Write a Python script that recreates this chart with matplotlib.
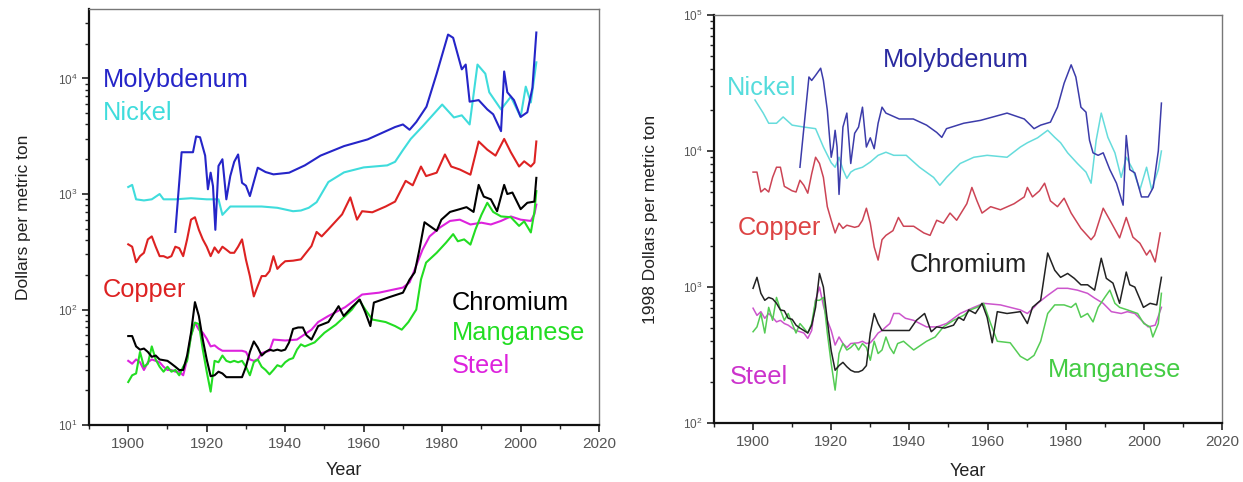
import numpy as np
import matplotlib
matplotlib.use("Agg")
import matplotlib.pyplot as plt
from matplotlib.ticker import LogLocator, MultipleLocator, NullFormatter

plt.rcParams['font.family'] = ['Liberation Sans', 'DejaVu Sans']

# ---- left panel: nominal dollars per metric ton ----
moly_yr = [1912, 1913.6, 1916.5, 1917.3, 1918.3, 1919.6, 1920.3, 1921, 1921.6, 1922.2, 1923, 1924, 1925, 1926,
           1927, 1928, 1929, 1930, 1931, 1933, 1935, 1937, 1941, 1945, 1949, 1955, 1961, 1968, 1970, 1971.7,
           1973.4, 1976, 1978.6, 1981.5, 1982.8, 1985, 1986, 1987, 1989.3, 1991.5, 1993, 1995, 1995.8, 1996.6,
           1998.3, 2000, 2001.7, 2003, 2004]
moly = [470, 2300, 2300, 3150, 3100, 2150, 1100, 1530, 1170, 490, 1750, 2000, 900, 1430,
        1900, 2200, 1250, 1180, 960, 1690, 1550, 1480, 1530, 1770, 2150, 2600, 2970, 3800, 4000, 3600,
        4200, 5700, 11000, 24000, 22500, 12000, 13200, 6300, 6500, 5400, 4900, 3500, 11500, 7600,
        6500, 4650, 5100, 8300, 25000]

nick_yr = [1900, 1901, 1902, 1904, 1906, 1908, 1909, 1912, 1916, 1920, 1923, 1924, 1926, 1930, 1934, 1938,
           1942, 1944, 1946, 1948, 1951, 1955, 1960, 1966, 1968, 1970, 1972, 1975, 1980, 1983, 1985, 1987,
           1989, 1991, 1992, 1995, 1997.5, 2000, 2001.3, 2002.6, 2004]
nick = [1150, 1200, 900, 880, 900, 1000, 900, 900, 920, 900, 900, 660, 780, 780, 780, 760,
        710, 720, 760, 850, 1270, 1540, 1700, 1770, 1900, 2400, 3000, 3850, 5950, 4600, 4800, 4000,
        13200, 11000, 7600, 5400, 6950, 4650, 8500, 6200, 13800]

copp_yr = [1900, 1901, 1902, 1903, 1904, 1905, 1906, 1907, 1908, 1909, 1910, 1911, 1912, 1913, 1914, 1915,
           1916, 1917, 1918, 1919, 1920, 1921, 1922, 1923, 1924, 1925, 1926, 1927, 1928, 1929, 1930, 1931,
           1932, 1933, 1934, 1935, 1936, 1937, 1938, 1939, 1940, 1942, 1944, 1946.7, 1948, 1949.3, 1951,
           1954.5, 1956.6, 1958.3, 1959.6, 1962.2, 1965.6, 1968, 1970.7, 1972.5, 1974.6, 1975.9, 1978.6,
           1980.7, 1982.3, 1984.5, 1987.2, 1989.3, 1991.5, 1993.6, 1995.8, 1997.5, 1999.6, 2000.9, 2002.6,
           2003.5, 2004]
copp = [367, 350, 257, 290, 310, 405, 430, 350, 290, 290, 280, 290, 350, 340, 290, 405,
        600, 630, 490, 405, 350, 290, 345, 310, 350, 330, 310, 310, 350, 405, 270, 195,
        130, 160, 195, 195, 215, 290, 225, 245, 262, 265, 272, 355, 470, 430, 495,
        667, 935, 600, 710, 695, 780, 860, 1300, 1190, 1730, 1430, 1530,
        2200, 1730, 1630, 1470, 2850, 2420, 2150, 3000, 2300, 1730, 1920, 1730,
        1870, 2850]

chro_yr = [1900, 1901, 1902, 1903, 1904, 1905, 1906, 1907, 1908, 1910, 1911, 1912, 1913, 1914, 1915, 1916,
           1917, 1918, 1919, 1920, 1921, 1922, 1923, 1924, 1925, 1929, 1930, 1931, 1932, 1933, 1934, 1935,
           1936, 1937, 1938, 1939, 1940, 1941, 1942, 1943.3, 1944.5, 1945.4, 1946.7, 1948.4, 1951, 1953.6,
           1954.9, 1957, 1959, 1960.4, 1961.7, 1962.6, 1966.5, 1970, 1971.7, 1973, 1974.2, 1975.5, 1976.8,
           1978.6, 1979.8, 1982, 1984.5, 1986.2, 1988, 1989.3, 1990.6, 1992.4, 1994, 1995.8, 1996.6, 1997.9,
           2000, 2001.7, 2003.5, 2004]
chro = [59, 59, 48, 45, 46, 43, 39, 40, 37, 36, 34, 32, 30, 30, 40, 63,
        116, 88, 55, 37, 26.5, 27, 29, 28, 26, 26, 32, 43, 53, 47, 40, 43,
        45, 44, 45, 44, 45, 52, 68, 70, 70, 60, 55, 72, 78, 107,
        88, 105, 122, 95, 72, 115, 128, 140, 182, 210, 330, 570, 530,
        480, 600, 700, 740, 770, 700, 1200, 950, 900, 710, 1200, 1000, 1030,
        740, 840, 860, 1380]

mang_yr = [1900, 1901, 1902, 1903, 1904, 1905, 1906, 1907, 1908, 1909, 1910, 1911, 1912, 1913, 1914, 1915,
           1916, 1917, 1918, 1919, 1920, 1921, 1922, 1923, 1924, 1925, 1926, 1927, 1928, 1929, 1930, 1931,
           1932, 1933, 1934, 1935, 1936, 1937, 1938, 1939, 1940, 1941, 1942, 1943, 1944, 1945, 1947.5, 1950,
           1952.9, 1955.3, 1957, 1958.8, 1960.4, 1962.2, 1965.6, 1968, 1969.7, 1971.4, 1973.4, 1974.6,
           1975.9, 1978.6, 1981, 1982.8, 1984, 1985.6, 1987.2, 1988.5, 1990, 1991.5, 1993, 1995, 1997.5,
           1999.6, 2000.9, 2002.6, 2003.5, 2004]
mang = [23.6, 27, 28, 43, 32, 34, 48, 37, 32, 29, 32, 29, 30, 27, 32, 36,
        59, 77, 75, 45, 29, 19.5, 36, 35, 40, 36, 35, 36, 35, 36, 32, 27,
        35, 37, 32, 30, 27.5, 30, 33, 32, 35, 37, 38, 45, 50, 48, 52, 63,
        74, 88, 100, 122, 100, 82, 78, 72, 67, 78, 100, 182,
        255, 310, 380, 450, 390, 405, 365, 495, 660, 840, 700, 640, 630,
        530, 580, 465, 700, 1060]

stee_yr = [1900, 1901, 1902, 1903, 1904, 1905, 1906, 1907, 1908, 1909, 1910, 1911, 1912, 1913, 1914, 1915,
           1916, 1917, 1918, 1919, 1920, 1921, 1922, 1923, 1924, 1929, 1930, 1931, 1932, 1933, 1934, 1935,
           1936, 1937, 1940, 1943, 1946.7, 1948.4, 1951, 1955.3, 1959.6, 1963.9, 1968, 1970, 1971.7, 1973.4,
           1975, 1976.8, 1979.5, 1982, 1984.5, 1987.2, 1990, 1992.4, 1995, 1997.5, 2000, 2002.6, 2003.5, 2004]
stee = [36, 34, 37, 35, 30, 35, 37, 36, 35, 32, 30, 30, 29, 29, 27, 37,
        60, 77, 67, 63, 56, 48, 49, 46, 44, 44, 43, 37, 36, 37, 42, 43,
        44, 55, 54, 55, 67, 78, 88, 105, 135, 140, 150, 155, 172, 240,
        330, 430, 515, 585, 600, 545, 565, 545, 585, 640, 600, 585, 670, 810]

# ---- right panel: 1998 dollars per metric ton ----
rmoly_yr = [1912, 1914.3, 1915, 1916, 1917.3, 1918, 1919, 1920, 1920.5, 1921, 1921.5, 1922, 1923, 1924, 1925,
            1926, 1927, 1928, 1929, 1930, 1931, 1932, 1933, 1934, 1937.4, 1941, 1944.4, 1947, 1948.3, 1949.5,
            1953.9, 1958.2, 1965, 1969.4, 1971, 1971.9, 1973.6, 1976.1, 1977.9, 1979.6, 1981.4, 1982.6,
            1983.9, 1985.2, 1986.1, 1987, 1988.3, 1989.6, 1991.3, 1993, 1994.7, 1995.5, 1996.4, 1997.7,
            1999.4, 2001.1, 2002.4, 2003.7, 2004.5]
rmoly = [7600, 35000, 33000, 36000, 40600, 33000, 20000, 9000, 10700, 14200, 10700, 4800, 15000, 19000, 8100,
         13500, 15000, 21000, 10700, 12500, 10400, 16000, 21000, 19000, 17200, 17200, 15500, 13700, 12600, 14600,
         16000, 16800, 19000, 17200, 15500, 14600, 15500, 16300, 21000, 31500, 43000, 35000,
         21000, 19300, 12000, 9700, 9300, 9700, 7300, 5800, 4000, 13000, 7300, 6900,
         4600, 4600, 5400, 10000, 22500]

rnick_yr = [1900.5, 1902.6, 1904, 1906, 1907.7, 1910, 1913, 1916, 1918, 1920, 1921, 1922, 1923, 1924, 1925,
            1926, 1928, 1930, 1932, 1934, 1936, 1939.2, 1942.6, 1946.2, 1947.8, 1949.5, 1953, 1956.5, 1959.9,
            1965, 1968.4, 1970.2, 1972.8, 1975.4, 1977.2, 1978.7, 1980.5, 1983, 1985.2, 1986.5, 1987.8,
            1989.1, 1990.8, 1992.6, 1994.2, 1995.5, 1997.2, 1999, 2000.7, 2002, 2003.7, 2004.5]
rnick = [23700, 19000, 16000, 16000, 17800, 15500, 15000, 14600, 10700, 8200, 7600, 9000, 7300, 6300, 7000,
         7300, 7600, 8300, 9300, 9800, 9300, 9300, 7600, 6400, 5600, 6400, 8100, 9000, 9300,
         9000, 10700, 11500, 12500, 14200, 12600, 11500, 9700, 8100, 7000, 5800, 12000,
         19000, 12600, 9700, 6400, 9000, 7300, 5200, 7600, 5200, 7300, 10000]

rcopp_yr = [1900, 1901, 1902, 1903, 1904, 1905, 1906, 1907, 1908, 1909, 1910, 1911, 1912, 1913, 1914, 1915,
            1916, 1917, 1918, 1919, 1920, 1921, 1922, 1923, 1924, 1925, 1926, 1927, 1928, 1929, 1930, 1931,
            1932, 1933, 1934, 1935.8, 1937.2, 1938.5, 1941.1, 1943.7, 1945.3, 1947, 1948.7, 1950.4, 1952.1,
            1954.7, 1956, 1957.3, 1958.6, 1960.8, 1963.3, 1966.8, 1969.4, 1970.2, 1971.5, 1973.3, 1974.6,
            1976.1, 1977.9, 1979.6, 1981.4, 1983.9, 1986.5, 1987.4, 1989.6, 1991.6, 1993.8, 1995.5, 1997.2,
            1999, 2000.7, 2001.6, 2002.9, 2004.2]
rcopp = [7000, 7000, 5000, 5300, 5000, 6400, 7600, 7600, 5500, 5300, 5100, 5000, 6100, 5600, 4900, 6800,
         9000, 8100, 6400, 3900, 3100, 2500, 2950, 2700, 2850, 2800, 2750, 2800, 3100, 3800, 2950, 1970,
         1580, 2230, 2400, 2600, 3250, 2800, 2800, 2500, 2400, 3100, 2950, 3500, 3100,
         4100, 5400, 4300, 3500, 3900, 3700, 4100, 4600, 5400, 4600, 5100, 5800,
         4300, 3900, 4500, 3500, 2700, 2230, 2400, 3800, 3000, 2300, 3250, 2330,
         2100, 1720, 1870, 1530, 2500]

rchro_yr = [1900, 1901, 1902, 1903, 1904, 1905, 1906, 1907, 1908, 1909, 1910, 1911, 1912, 1913, 1914, 1915,
            1916, 1917, 1918, 1919, 1920, 1921, 1922, 1923, 1924, 1925, 1926, 1927, 1928, 1929, 1930, 1931,
            1932, 1933, 1934, 1936, 1938, 1940, 1941.8, 1943.9, 1945.6, 1947, 1949, 1951.3, 1952.6, 1953.9,
            1955.2, 1956.9, 1958.6, 1959.9, 1961.2, 1962.5, 1965, 1968.4, 1970.2, 1971.5, 1973.6, 1975.4,
            1977.2, 1978.7, 1980.5, 1982.2, 1983.9, 1985.6, 1987.4, 1989.1, 1990.4, 1992.1, 1993.8, 1995.5,
            1996.4, 1997.7, 1999.9, 2001.6, 2003.3, 2004.5]
rchro = [980, 1180, 900, 800, 840, 820, 760, 680, 670, 590, 580, 525, 500, 480, 460, 525,
         710, 1260, 1000, 570, 340, 245, 265, 280, 260, 245, 238, 238, 245, 265, 460, 640,
         540, 480, 480, 480, 480, 480, 570, 640, 470, 510, 500, 525, 600, 570,
         680, 640, 760, 600, 390, 660, 640, 660, 540, 710, 800, 1780,
         1330, 1180, 1260, 1160, 1040, 1040, 950, 1630, 1160, 1070, 760, 1290,
         1040, 1000, 710, 760, 740, 1180]

rmang_yr = [1900, 1901, 1902, 1903, 1904, 1905, 1906, 1907, 1908, 1909, 1910, 1911, 1912, 1913, 1914, 1915,
            1916, 1917, 1918, 1919, 1920, 1921, 1922, 1923, 1924, 1925, 1926, 1927, 1928, 1929, 1930, 1931,
            1932, 1933, 1934, 1935, 1936, 1937, 1938.5, 1941.1, 1944.4, 1946.6, 1948.7, 1951.3, 1953.9,
            1955.6, 1957.3, 1959, 1960.8, 1962.5, 1965.8, 1968.4, 1970.2, 1971.9, 1973.6, 1975.4, 1977.2,
            1979.6, 1981.4, 1982.6, 1983.9, 1985.6, 1987, 1988.3, 1990, 1991.3, 1992.6, 1993.8, 1995.8,
            1998.4, 2000, 2001.6, 2002.3, 2003.7, 2004.5]
rmang = [470, 510, 640, 460, 710, 570, 840, 680, 570, 640, 540, 460, 540, 500, 460, 540,
         800, 800, 840, 460, 275, 175, 325, 385, 345, 360, 385, 345, 385, 360, 290, 400,
         325, 345, 430, 360, 325, 385, 400, 345, 400, 430, 510, 570, 620,
         680, 710, 760, 540, 400, 390, 310, 290, 315, 400, 640, 740,
         740, 710, 760, 600, 640, 555, 710, 840, 950, 760, 710, 680,
         640, 540, 510, 430, 540, 900]

rstee_yr = [1900, 1901, 1902, 1903, 1904, 1905, 1906, 1907, 1908, 1909, 1910, 1911, 1912, 1913, 1914, 1915,
            1916, 1917, 1918, 1919, 1920, 1921, 1922, 1923, 1924, 1925, 1927, 1928, 1929, 1930, 1931, 1932,
            1933, 1934, 1935, 1936, 1937.4, 1939, 1941.1, 1944.4, 1947, 1949.5, 1953, 1956.5, 1959, 1963.3,
            1968.4, 1970.2, 1971.9, 1972.8, 1975.4, 1977.9, 1980.5, 1983, 1985.6, 1987.4, 1989.6, 1991.7,
            1994.2, 1995.8, 1997.7, 1999.4, 2001.1, 2002.9, 2004.5]
rstee = [700, 620, 660, 590, 640, 600, 555, 570, 540, 525, 500, 480, 470, 460, 420, 480,
         800, 1000, 730, 570, 480, 375, 430, 385, 360, 385, 390, 400, 385, 390, 420, 460,
         480, 510, 540, 640, 640, 590, 570, 510, 510, 540, 640, 710, 760, 740,
         680, 640, 710, 760, 870, 980, 980, 950, 900, 830, 760, 660,
         640, 660, 640, 570, 510, 525, 710]

fig = plt.figure(figsize=(12.43, 4.82), dpi=100)
ax1 = fig.add_axes([0.0716, 0.118, 0.4104, 0.863])
ax2 = fig.add_axes([0.5744, 0.122, 0.4087, 0.847])


def style_axes(ax, ylo, yhi, ylabel, ypad, xpad):
    ax.set_yscale('log')
    ax.set_xlim(1890, 2020)
    ax.set_ylim(ylo, yhi)
    ax.xaxis.set_major_locator(MultipleLocator(20))
    ax.xaxis.set_minor_locator(MultipleLocator(10))
    ax.yaxis.set_major_locator(LogLocator(base=10, numticks=10))
    ax.yaxis.set_minor_locator(LogLocator(base=10, subs=np.arange(2, 10), numticks=20))
    ax.yaxis.set_minor_formatter(NullFormatter())
    ax.tick_params(which='major', direction='out', length=5, width=1.2, colors='#222',
                   labelcolor='#555', labelsize=11)
    ax.tick_params(axis='y', which='major', labelsize=8.5)
    ax.tick_params(which='minor', direction='out', length=3, width=1, colors='#222')
    for s in ['left', 'bottom']:
        ax.spines[s].set_linewidth(1.6)
        ax.spines[s].set_color('#111')
    for s in ['top', 'right']:
        ax.spines[s].set_linewidth(1.0)
        ax.spines[s].set_color('#777')
    ax.set_xlabel('Year', fontsize=13, color='#222', labelpad=xpad)
    ax.set_ylabel(ylabel, fontsize=12.5, color='#222', labelpad=ypad)


# left panel
lw = 1.5
ax1.plot(nick_yr, nick, color='#3fdcdc', lw=lw)
ax1.plot(moly_yr, moly, color='#2525c8', lw=lw)
ax1.plot(copp_yr, copp, color='#dd2222', lw=lw)
ax1.plot(stee_yr, stee, color='#dd22dd', lw=lw)
ax1.plot(mang_yr, mang, color='#22dd22', lw=lw)
ax1.plot(chro_yr, chro, color='black', lw=lw)
style_axes(ax1, 10, 10 ** 4.6, 'Dollars per metric ton', 19, 8)

fs = 18.3
ax1.text(0.027, 0.83, 'Molybdenum', color='#2525c8', fontsize=fs, va='center', transform=ax1.transAxes)
ax1.text(0.027, 0.75, 'Nickel', color='#3fdcdc', fontsize=fs, va='center', transform=ax1.transAxes)
ax1.text(0.027, 0.325, 'Copper', color='#dd2222', fontsize=fs, va='center', transform=ax1.transAxes)
ax1.text(0.712, 0.293, 'Chromium', color='black', fontsize=fs, va='center', transform=ax1.transAxes)
ax1.text(0.712, 0.221, 'Manganese', color='#22dd22', fontsize=fs, va='center', transform=ax1.transAxes)
ax1.text(0.712, 0.142, 'Steel', color='#dd22dd', fontsize=fs, va='center', transform=ax1.transAxes)

# right panel
lw = 1.1
ax2.plot(rnick_yr, rnick, color='#66dcdc', lw=lw)
ax2.plot(rmoly_yr, rmoly, color='#3c3caa', lw=lw)
ax2.plot(rcopp_yr, rcopp, color='#cc4455', lw=lw)
ax2.plot(rstee_yr, rstee, color='#cc55cc', lw=lw)
ax2.plot(rmang_yr, rmang, color='#55cc55', lw=lw)
ax2.plot(rchro_yr, rchro, color='#222222', lw=lw)
style_axes(ax2, 100, 1e5, '1998 Dollars per metric ton', 18, 10)

ax2.text(0.333, 0.89, 'Molybdenum', color='#2a2aa0', fontsize=fs, va='center', transform=ax2.transAxes)
ax2.text(0.026, 0.821, 'Nickel', color='#55dcdc', fontsize=fs, va='center', transform=ax2.transAxes)
ax2.text(0.047, 0.478, 'Copper', color='#dd4444', fontsize=fs, va='center', transform=ax2.transAxes)
ax2.text(0.386, 0.387, 'Chromium', color='#222222', fontsize=fs, va='center', transform=ax2.transAxes)
ax2.text(0.031, 0.113, 'Steel', color='#cc33cc', fontsize=fs, va='center', transform=ax2.transAxes)
ax2.text(0.657, 0.13, 'Manganese', color='#44cc44', fontsize=fs, va='center', transform=ax2.transAxes)

fig.savefig('out.png', dpi=100)
